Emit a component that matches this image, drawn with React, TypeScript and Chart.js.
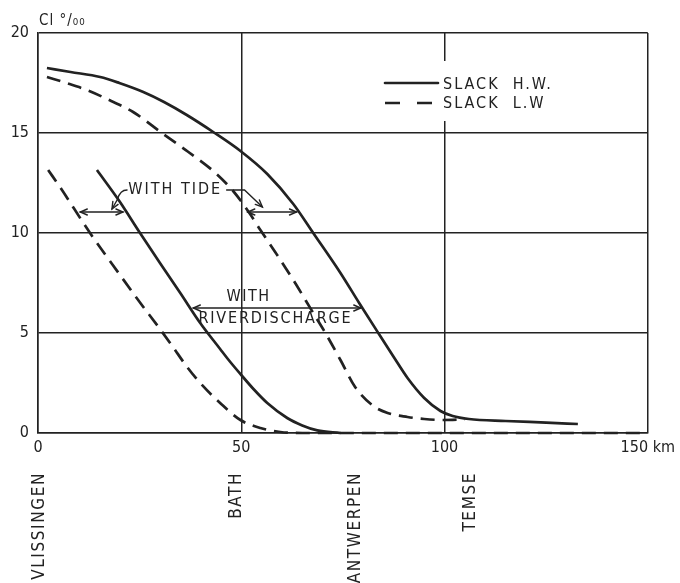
import React, { useEffect, useRef } from "react";
import { Chart, registerables } from "chart.js";

Chart.register(...registerables);

// ---- data (km along estuary, chlorinity Cl ‰) ----
const hwTideKm = [2.2, 8, 15.3, 20, 25.9, 31, 36.6, 43.1, 49.8, 56.4, 62.8, 67.7, 74.4, 79, 83.7, 87.5, 90.9, 95, 99, 102, 106, 115, 125, 132.8];
const hwTideCl = [18.25, 18.05, 17.8, 17.5, 17.05, 16.55, 15.9, 15.05, 14.1, 12.95, 11.45, 10.0, 8.0, 6.5, 5.0, 3.8, 2.75, 1.75, 1.1, 0.85, 0.7, 0.6, 0.52, 0.45];

const lwTideKm = [2.2, 7, 12, 18, 23.4, 30.8, 37, 43.1, 48, 52, 54.7, 58.5, 62.8, 67.7, 70.7, 74.4, 78, 82.5, 86, 90.9, 95, 99.8, 105];
const lwTideCl = [17.8, 17.5, 17.15, 16.6, 16.05, 14.95, 14.05, 13.1, 12.1, 11.0, 10.15, 9.0, 7.65, 6.0, 5.0, 3.65, 2.3, 1.35, 1.0, 0.8, 0.7, 0.65, 0.68];

const hwRiverKm = [14.5, 20, 25.1, 30, 35, 39.9, 44.8, 47.3, 50, 53, 56.4, 61.3, 65, 68.7, 74.4];
const hwRiverCl = [13.15, 11.6, 10.0, 8.5, 7.0, 5.5, 4.2, 3.55, 2.9, 2.2, 1.5, 0.75, 0.38, 0.13, 0];

const lwRiverKm = [2.5, 5.4, 12.8, 20, 25, 30, 33.2, 36.5, 39.9, 44.8, 49.8, 54.7, 59.6, 65, 150];
const lwRiverCl = [13.15, 12.3, 10.0, 7.95, 6.55, 5.2, 4.3, 3.35, 2.5, 1.5, 0.65, 0.25, 0.05, 0, 0];

const xTicks = [0, 50, 100, 150];
const yTicks = [0, 5, 10, 15, 20];

const stationNames = ["VLISSINGEN", "BATH", "ANTWERPEN", "TEMSE"];
const stationKm = [0.3, 48.8, 78, 106.4];

const legendLabels = ["SLACK  H.W.", "SLACK  L.W"];

const INK = "#222222";
const FONT = "'DejaVu Sans Condensed', 'DejaVu Sans', sans-serif";

const toPts = (xs: number[], ys: number[]) => xs.map((x, i) => ({ x, y: ys[i] }));

function arrowHead(ctx: CanvasRenderingContext2D, x: number, y: number, dx: number, dy: number) {
  const len = Math.hypot(dx, dy) || 1;
  const ux = dx / len, uy = dy / len;
  const L = 7, W = 3;
  ctx.beginPath();
  ctx.moveTo(x - ux * L - uy * W, y - uy * L + ux * W);
  ctx.lineTo(x, y);
  ctx.lineTo(x - ux * L + uy * W, y - uy * L - ux * W);
  ctx.stroke();
}

function doubleArrow(ctx: CanvasRenderingContext2D, x1: number, y1: number, x2: number, y2: number) {
  ctx.beginPath();
  ctx.moveTo(x1, y1);
  ctx.lineTo(x2, y2);
  ctx.stroke();
  arrowHead(ctx, x2, y2, x2 - x1, y2 - y1);
  arrowHead(ctx, x1, y1, x1 - x2, y1 - y2);
}

const annotPlugin = {
  id: "annot",
  beforeDatasetsDraw(chart: any) {
    const { ctx, chartArea: a } = chart;
    ctx.save();
    ctx.fillStyle = "#fff";
    ctx.fillRect(a.left + 342, a.top + 28, 180, 60);
    ctx.restore();
  },
  afterDatasetsDraw(chart: any) {
    const { ctx, chartArea: a, scales } = chart;
    const xs = scales.x, ys = scales.y;
    const X = (v: number) => xs.getPixelForValue(v);
    const Y = (v: number) => ys.getPixelForValue(v);
    ctx.save();
    ctx.strokeStyle = INK;
    ctx.fillStyle = INK;
    ctx.lineCap = "round";

    // legend
    const lx = a.left + 347, lx2 = a.left + 400;
    const ly1 = a.top + 50, ly2 = a.top + 70;
    ctx.lineWidth = 2.6;
    ctx.beginPath(); ctx.moveTo(lx, ly1); ctx.lineTo(lx2, ly1); ctx.stroke();
    ctx.setLineDash([15, 17]);
    ctx.lineCap = "butt";
    ctx.beginPath(); ctx.moveTo(lx, ly2); ctx.lineTo(lx2 + 1, ly2); ctx.stroke();
    ctx.setLineDash([]);
    ctx.font = `16px ${FONT}`;
    (ctx as any).letterSpacing = "2px";
    ctx.textAlign = "left";
    ctx.textBaseline = "middle";
    ctx.fillText(legendLabels[0], lx2 + 5, ly1 + 2);
    ctx.fillText(legendLabels[1], lx2 + 5, ly2 + 1);

    // WITH TIDE
    ctx.lineWidth = 1.4;
    ctx.lineCap = "round";
    ctx.font = `16px ${FONT}`;
    ctx.fillText("WITH TIDE", X(22.2), Y(12.15));
    doubleArrow(ctx, X(10.4), Y(11.05), X(20.9), Y(11.05));
    doubleArrow(ctx, X(51.6), Y(11.05), X(63.6), Y(11.05));
    // leader left
    ctx.beginPath();
    ctx.moveTo(X(21.9), Y(12.15));
    ctx.quadraticCurveTo(X(20.2), Y(12.15), X(19.6), Y(11.7));
    ctx.lineTo(X(18.2), Y(11.2));
    ctx.stroke();
    arrowHead(ctx, X(18.2), Y(11.2), X(18.2) - X(19.6), Y(11.2) - Y(11.7));
    // leader right
    ctx.beginPath();
    ctx.moveTo(X(46.4), Y(12.15));
    ctx.lineTo(X(50.8), Y(12.15));
    ctx.lineTo(X(55.2), Y(11.3));
    ctx.stroke();
    arrowHead(ctx, X(55.2), Y(11.3), X(55.2) - X(50.8), Y(11.3) - Y(12.15));

    // WITH RIVERDISCHARGE
    ctx.textAlign = "center";
    (ctx as any).letterSpacing = "1.5px";
    ctx.fillText("WITH", X(51.8), Y(6.8));
    (ctx as any).letterSpacing = "1.8px";
    ctx.fillText("RIVERDISCHARGE", X(58.4), Y(5.72));
    doubleArrow(ctx, X(38.2), Y(6.25), X(79.4), Y(6.25));

    // axis title
    (ctx as any).letterSpacing = "1px";
    ctx.textAlign = "left";
    ctx.font = `15px ${FONT}`;
    ctx.fillText("Cl °/₀₀", a.left + 1, a.top - 12);

    // station names
    (ctx as any).letterSpacing = "1.6px";
    ctx.font = `17px ${FONT}`;
    stationNames.forEach((name, i) => {
      ctx.save();
      ctx.translate(X(stationKm[i]), a.bottom + 39);
      ctx.rotate(-Math.PI / 2);
      ctx.textAlign = "right";
      ctx.textBaseline = "middle";
      ctx.fillText(name, 0, 0);
      ctx.restore();
    });
    ctx.restore();
  },
};

export default function App() {
  const ref = useRef<HTMLCanvasElement | null>(null);
  useEffect(() => {
    if (!ref.current) return;
    const lineBase = {
      borderColor: INK,
      borderWidth: 2.7,
      pointRadius: 0,
      fill: false,
      cubicInterpolationMode: "monotone" as const,
      clip: 6,
    };
    const chart = new Chart(ref.current, {
      type: "line",
      data: {
        datasets: [
          { ...lineBase, label: "SLACK H.W. (with tide)", data: toPts(hwTideKm, hwTideCl) },
          { ...lineBase, label: "SLACK L.W (with tide)", data: toPts(lwTideKm, lwTideCl), borderDash: [14, 8] },
          { ...lineBase, label: "SLACK H.W. (river discharge)", data: toPts(hwRiverKm, hwRiverCl) },
          { ...lineBase, label: "SLACK L.W (river discharge)", data: toPts(lwRiverKm, lwRiverCl), borderDash: [14, 8] },
        ] as any,
      },
      options: {
        animation: false,
        responsive: false,
        devicePixelRatio: 1,
        layout: { padding: { top: 33, right: 31, left: 0, bottom: 0 } },
        plugins: { legend: { display: false }, tooltip: { enabled: false } },
        scales: {
          x: {
            type: "linear",
            min: 0,
            max: 150,
            afterBuildTicks: (s: any) => { s.ticks = xTicks.map((v) => ({ value: v })); },
            afterFit: (s: any) => { s.height = 150; },
            grid: { color: INK, lineWidth: 1.5, drawTicks: false },
            border: { color: INK, width: 1.5 },
            ticks: {
              color: INK,
              padding: 5,
              maxRotation: 0,
              font: { family: FONT, size: 16 },
              callback: (v: any) => (Number(v) === 150 ? "150 km" : String(v)),
            },
          },
          y: {
            type: "linear",
            min: 0,
            max: 20,
            afterBuildTicks: (s: any) => { s.ticks = yTicks.map((v) => ({ value: v })); },
            afterFit: (s: any) => { s.width = 38; },
            grid: { color: INK, lineWidth: 1.5, drawTicks: false },
            border: { color: INK, width: 1.5 },
            ticks: { color: INK, padding: 9, font: { family: FONT, size: 16 } },
          },
        },
      },
      plugins: [annotPlugin],
    });
    return () => chart.destroy();
  }, []);
  return (
    <div style={{ position: "absolute", left: 0, top: 0, width: 680, height: 583, background: "#fff" }}>
      <canvas ref={ref} width={680} height={583} style={{ display: "block" }} />
    </div>
  );
}
